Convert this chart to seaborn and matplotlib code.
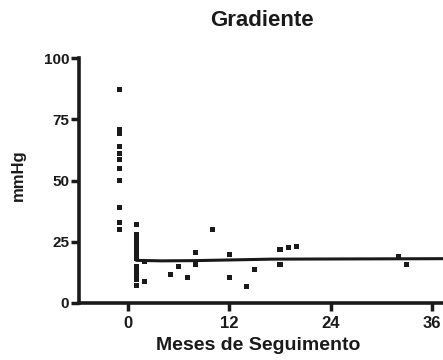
import numpy as np
import pandas as pd
import matplotlib
matplotlib.use("Agg")
import matplotlib.pyplot as plt
import seaborn as sns

# pontos individuais (meses de seguimento, gradiente em mmHg)
meses = [-1] * 11 + [1] * 12 + [2, 2, 5, 6, 7, 8, 8, 10, 12, 12, 14, 15,
                                  18, 18, 19, 20, 32, 33]
gradiente = [87, 71, 69, 64, 61, 58.5, 55, 50, 39, 33, 30,
             32, 28, 26, 24, 22, 20, 18, 15, 13, 11, 9.5, 7,
             17, 8.8, 11.8, 14.8, 10.6, 20.8, 15.9, 30, 19.6, 10.6, 6.8, 13.7,
             21.8, 15.9, 22.8, 23, 19, 15.9]

# curva ajustada
curva_x = [1, 4, 8, 17, 38]
curva_y = [17.4, 17.2, 17.3, 17.9, 18.1]

xticks = [0, 12, 24, 36]
yticks = [0, 25, 50, 75, 100]

pontos = pd.DataFrame({"meses": meses, "mmHg": gradiente})
curva = pd.DataFrame({"meses": curva_x, "mmHg": curva_y})

sns.set_style("ticks")
plt.rcParams['font.family'] = ['Liberation Sans', 'DejaVu Sans']

cor = "#1a1a1a"
fig = plt.figure(figsize=(4.43, 3.6), dpi=100)
ax = fig.add_axes([79 / 443, 1 - 303 / 360, 1 - 79 / 443, 245 / 360])

sns.scatterplot(data=pontos, x="meses", y="mmHg", marker="s", s=13,
                color=cor, edgecolor="none", ax=ax, zorder=3)
sns.lineplot(data=curva, x="meses", y="mmHg", color=cor, linewidth=2.2,
             ax=ax, zorder=2)

ax.set_xlim(-5.8, 37.3)
ax.set_ylim(0, 100)
ax.set_xticks(xticks)
ax.set_yticks(yticks)
ax.tick_params(axis="both", direction="out", length=6, width=2.5,
               color=cor, labelcolor=cor, pad=1)
ax.tick_params(axis="y", labelsize=11)
ax.tick_params(axis="x", labelsize=12, pad=3)
for lab in ax.get_xticklabels() + ax.get_yticklabels():
    lab.set_fontweight("bold")

for s in ["top", "right"]:
    ax.spines[s].set_visible(False)
for s in ["left", "bottom"]:
    ax.spines[s].set_linewidth(2.6)
    ax.spines[s].set_color(cor)

ax.set_xlabel("")
ax.set_ylabel("")
fig.text(258 / 443, 1 - 345 / 360, "Meses de Seguimento", ha="center",
         va="center", fontsize=14, fontweight="bold", color=cor)
fig.text(18 / 443, 1 - 175 / 360, "mmHg", ha="center", va="center",
         rotation=90, fontsize=12, fontweight="bold", color=cor)
fig.text(262 / 443, 1 - 21 / 360, "Gradiente", ha="center", va="center",
         fontsize=16, fontweight="bold", color=cor)

fig.savefig("out.png", dpi=100)
